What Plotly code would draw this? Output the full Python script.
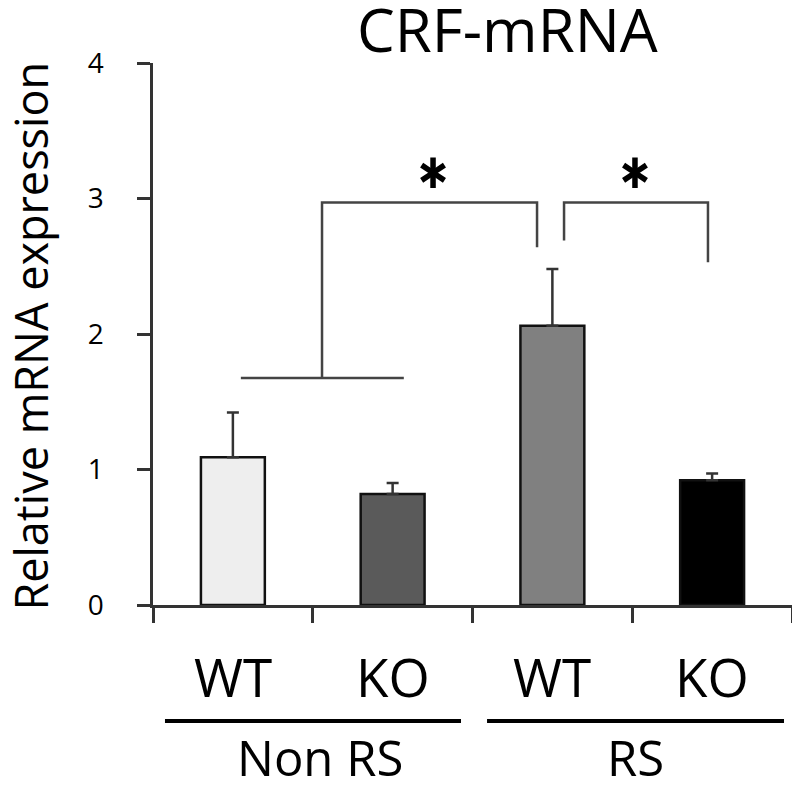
import plotly.graph_objects as go

# ---- data ----
genotypes = ["WT", "KO", "WT", "KO"]
groups = ["Non RS", "RS"]
means = [1.09, 0.82, 2.06, 0.92]
err_up = [0.33, 0.08, 0.42, 0.05]
bar_colors = ["#eeeeee", "#5a5a5a", "#808080", "#000000"]
y_ticks = [0, 1, 2, 3, 4]

# significance brackets (data coords) and asterisks
bracket1 = [(0.558, 1.675), (0.558, 2.97), (1.904, 2.97), (1.904, 2.64)]
base_line = [(0.05, 1.675), (1.07, 1.675)]
bracket2 = [(2.073, 2.69), (2.073, 2.97), (2.974, 2.97), (2.974, 2.53)]
star_x = [1.253, 2.517]
star_y = [3.19, 3.19]

# group bars below axis (data x spans)
group_spans = [(-0.425, 1.428), (1.591, 3.45)]
group_label_x = [0.545, 2.523]

FONT = "Open Sans"
xpos = list(range(len(genotypes)))

fig = go.Figure()
fig.add_trace(go.Bar(
    x=xpos, y=means, width=0.4,
    marker=dict(color=bar_colors, line=dict(color="#111111", width=2.5)),
    error_y=dict(type="data", symmetric=False, array=err_up,
                 arrayminus=[0] * len(err_up),
                 color="#333333", thickness=2.5, width=6),
    showlegend=False, hoverinfo="skip",
))

# asterisks as 6-spoke marks (two overlaid Y symbols)
for sym in ["y-up-open", "y-down-open"]:
    fig.add_trace(go.Scatter(
        x=star_x, y=star_y, mode="markers",
        marker=dict(symbol=sym, size=19, color="#000000",
                    line=dict(color="#000000", width=5.5)),
        showlegend=False, hoverinfo="skip", cliponaxis=False,
    ))

def path_from(pts):
    return "M " + " L ".join(f"{x},{y}" for x, y in pts)

for pts in (bracket1, base_line, bracket2):
    fig.add_shape(type="path", path=path_from(pts), xref="x", yref="y",
                  line=dict(color="#444444", width=2.5))

for (x0, x1) in group_spans:
    fig.add_shape(type="line", xref="x", yref="paper", x0=x0, x1=x1,
                  y0=-0.214, y1=-0.214, line=dict(color="#000000", width=4))

annotations = []
for i, g in enumerate(genotypes):
    annotations.append(dict(x=i, y=-0.131, xref="x", yref="paper", text=g,
                            showarrow=False, yanchor="middle", xanchor="center",
                            font=dict(family=FONT, size=53, color="#000000")))
for gx, gl in zip(group_label_x, groups):
    annotations.append(dict(x=gx, y=-0.280, xref="x", yref="paper", text=gl,
                            showarrow=False, yanchor="middle", xanchor="center",
                            font=dict(family=FONT, size=49, color="#000000")))
annotations.append(dict(x=-0.191, y=0.497, xref="paper", yref="paper",
                        text="Relative mRNA expression", textangle=-90,
                        showarrow=False, xanchor="center", yanchor="middle",
                        font=dict(family=FONT, size=45, color="#000000")))
annotations.append(dict(x=0.555, y=1.0635, xref="paper", yref="paper",
                        text="CRF-mRNA", showarrow=False,
                        xanchor="center", yanchor="middle",
                        font=dict(family=FONT, size=60, color="#000000")))

# page body adds an 8px offset, so the figure is drawn 8px smaller
fig.update_layout(
    width=792, height=781,
    margin=dict(l=145, r=8, t=55, b=184, pad=0),
    paper_bgcolor="white", plot_bgcolor="white",
    annotations=annotations,
    xaxis=dict(range=[-0.5, 3.5], tickvals=[-0.5, 0.5, 1.5, 2.5, 3.5],
               ticks="outside", ticklen=15, tickwidth=2.5, tickcolor="#333333",
               showticklabels=False, showline=True, linewidth=2.5,
               linecolor="#333333", showgrid=False, zeroline=False,
               fixedrange=True),
    yaxis=dict(range=[0, 4], tickvals=y_ticks, ticks="outside", ticklen=13,
               tickwidth=2.5, tickcolor="#333333", showline=True, linewidth=2.5,
               linecolor="#333333", showgrid=False, zeroline=False,
               tickfont=dict(family=FONT, size=28, color="#000000"),
               ticklabelstandoff=28, fixedrange=True),
)

fig.write_html("out.html")
